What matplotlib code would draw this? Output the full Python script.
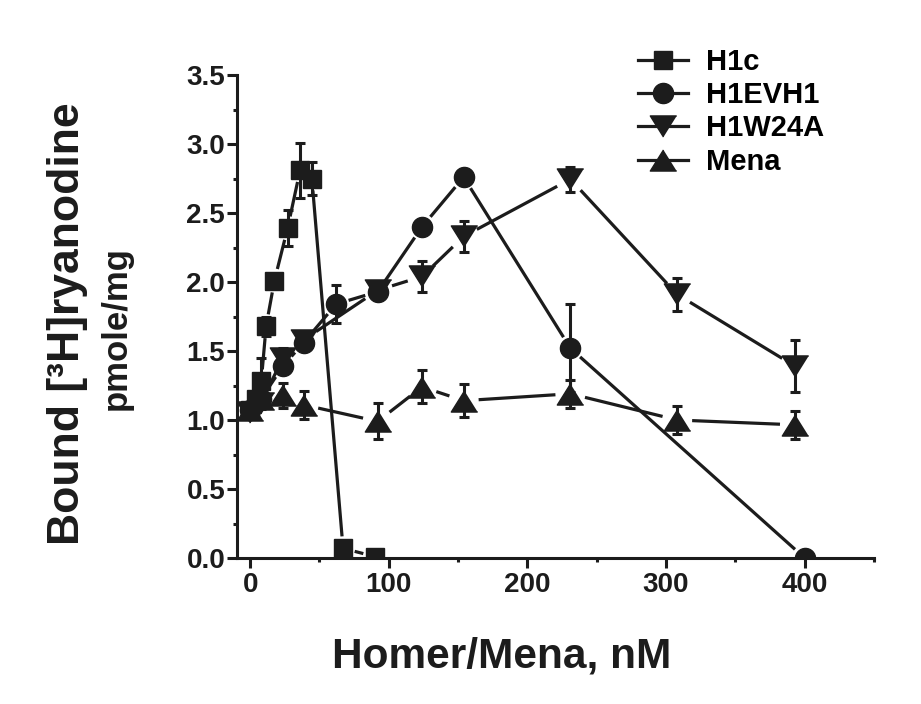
import numpy as np
import matplotlib
matplotlib.use("Agg")
import matplotlib.pyplot as plt
from matplotlib.lines import Line2D
from matplotlib.ticker import MultipleLocator, FormatStrFormatter

plt.rcParams['font.family'] = ['Liberation Sans', 'DejaVu Sans']
plt.rcParams['font.weight'] = 'bold'

# data (x in nM, y in pmole/mg, e = error bar half height)
x_h1c = [0, 4, 8, 11.5, 17.5, 27, 36, 44.5, 67, 90]
y_h1c = [1.07, 1.15, 1.28, 1.68, 2.01, 2.39, 2.81, 2.75, 0.07, 0.01]
e_h1c = [0.03, 0.05, 0.17, 0.07, 0.03, 0.13, 0.20, 0.12, 0.03, 0.01]

x_evh = [0, 7.7, 23.6, 38.5, 62, 92, 124, 154, 231, 400]
y_evh = [1.07, 1.15, 1.39, 1.56, 1.84, 1.93, 2.40, 2.76, 1.52, 0.0]
e_evh = [0.03, 0.04, 0.05, 0.04, 0.14, 0.06, 0.05, 0.06, 0.32, 0.01]

x_w24 = [0, 7.7, 23.6, 38.5, 92, 124, 154, 231, 308, 393]
y_w24 = [1.06, 1.12, 1.45, 1.58, 1.94, 2.04, 2.33, 2.745, 1.91, 1.39]
e_w24 = [0.03, 0.04, 0.07, 0.04, 0.06, 0.11, 0.11, 0.09, 0.12, 0.19]

x_mena = [0, 7.7, 23.6, 38.5, 92, 124, 154, 231, 308, 393]
y_mena = [1.07, 1.15, 1.18, 1.11, 0.99, 1.24, 1.14, 1.19, 1.00, 0.965]
e_mena = [0.03, 0.05, 0.09, 0.10, 0.13, 0.12, 0.12, 0.10, 0.10, 0.10]

labels = ['H1c', 'H1EVH1', 'H1W24A', 'Mena']

ink = '#1c1c1c'
tri_up = [(0, 0.8), (-1, -0.8), (1, -0.8)]
tri_dn = [(0, -0.8), (-1, 0.8), (1, 0.8)]

series = [
    (x_h1c, y_h1c, e_h1c, 's', 12.5, 12),
    (x_evh, y_evh, e_evh, 'o', 14.5, 13),
    (x_w24, y_w24, e_w24, tri_dn, 19, 15),
    (x_mena, y_mena, e_mena, tri_up, 19, 15),
]

fig = plt.figure(figsize=(9.21, 7.04), dpi=100)
ax = fig.add_axes([237/921, 1 - 558/704, (874-237)/921, (558-75)/704])
ax.set_xlim(-9.5, 450)
ax.set_ylim(0, 3.5)

for s in ['top', 'right']:
    ax.spines[s].set_visible(False)
for s in ['left', 'bottom']:
    ax.spines[s].set_linewidth(2.2)
    ax.spines[s].set_color(ink)

ax.xaxis.set_major_locator(MultipleLocator(100))
ax.xaxis.set_minor_locator(MultipleLocator(50))
ax.yaxis.set_major_locator(MultipleLocator(0.5))
ax.yaxis.set_minor_locator(MultipleLocator(0.25))
ax.yaxis.set_major_formatter(FormatStrFormatter('%.1f'))
ax.tick_params(which='major', length=7, width=2.2, color=ink, labelsize=20,
               labelcolor=ink)
ax.tick_params(which='minor', length=3, width=2.2, color=ink)
ax.tick_params(axis='y', which='major', pad=1.5)
ax.tick_params(axis='x', which='major', pad=3)


def gapped_line(ax, x, y, gap):
    # GraphPad style: the connecting line stops short of each symbol
    pts = ax.transData.transform(np.column_stack([x, y]))
    inv = ax.transData.inverted()
    for p0, p1 in zip(pts[:-1], pts[1:]):
        d = p1 - p0
        L = np.hypot(d[0], d[1])
        if L <= 2 * gap:
            continue
        u = d / L
        a = inv.transform(p0 + u * gap)
        b = inv.transform(p1 - u * gap)
        ax.plot([a[0], b[0]], [a[1], b[1]], color=ink, lw=2.3,
                solid_capstyle='butt', zorder=2)


for x, y, e, m, ms, gap in series:
    gapped_line(ax, x, y, gap)
    ax.errorbar(x, y, yerr=e, fmt='none', ecolor=ink, elinewidth=2.2,
                capsize=3.6, capthick=2.2, zorder=3)
    ax.plot(x, y, ls='none', marker=m, ms=ms, color=ink, mec=ink, zorder=4)

handles = [Line2D([], [], color=ink, lw=2.3, marker=m, ms=ms, mec=ink)
           for _, _, _, m, ms, _ in series]
fig.legend(handles, labels, loc='upper left',
           bbox_to_anchor=(638/921, 1 - 48/704), frameon=False,
           prop={'family': 'Liberation Sans', 'weight': 'bold', 'size': 21},
           handlelength=1.72, handletextpad=0.62, labelspacing=0.18,
           borderpad=0, borderaxespad=0)

fig.text(502/921, 1 - 668/704, 'Homer/Mena, nM', ha='center', va='baseline',
         fontsize=30.5, fontweight='bold', color=ink)
fig.text(67/921, 1 - 324/704, 'Bound [³H]ryanodine', rotation=90,
         ha='center', va='center', fontsize=32, fontweight='bold', color=ink)
fig.text(116/921, 1 - 328/704, 'pmole/mg', rotation=90,
         ha='center', va='center', fontsize=25, fontweight='bold', color=ink)

fig.savefig('out.png', dpi=100)
